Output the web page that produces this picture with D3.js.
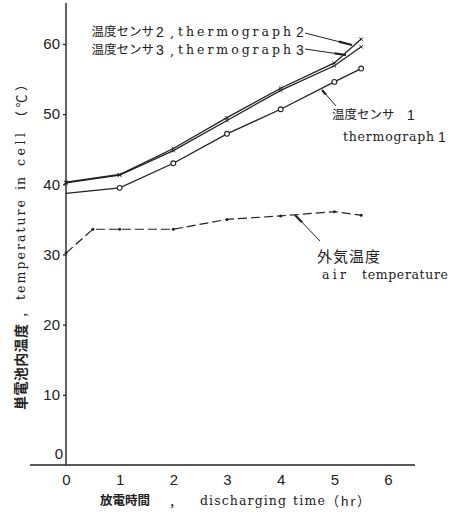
<!DOCTYPE html>
<html>
<head>
<meta charset="utf-8">
<script src="https://cdn.jsdelivr.net/npm/d3@7"></script>
<style>
  html, body { margin: 0; padding: 0; background: #fff; }
  svg { display: block; }
</style>
</head>
<body>
<svg id="chart" width="461" height="515"></svg>
<script>
// Discharge test: cell temperatures and ambient air temperature vs. time
const xTicks = [0, 1, 2, 3, 4, 5, 6];
const yTicks = [0, 10, 20, 30, 40, 50, 60];

const timesSensor = [0, 1, 2, 3, 4, 5, 5.5];
const sensor1 = [38.7, 39.5, 43.0, 47.2, 50.7, 54.6, 56.5];
const sensor2 = [40.3, 41.4, 45.1, 49.5, 53.7, 57.3, 60.7];
const sensor3 = [40.2, 41.3, 44.8, 49.1, 53.4, 56.9, 59.6];

const timesAir = [0, 0.5, 1, 2, 3, 4, 5, 5.5];
const airTemp = [30.2, 33.6, 33.6, 33.6, 35.0, 35.5, 36.1, 35.6];

const INK = "#222";
const SANS = "'Liberation Sans', Arial, sans-serif";
const SERIF = "'DejaVu Serif', 'Liberation Serif', serif";
const CJK = "'Noto Sans CJK JP', 'Noto Sans CJK SC', sans-serif";

const svg = d3.select("#chart");

const x = d3.scaleLinear().domain([0, 6]).range([66, 388]);
const y = d3.scaleLinear().domain([0, 60]).range([465, 44]);

// axis lines
svg.append("line").attr("x1", 30).attr("x2", 415).attr("y1", y(0)).attr("y2", y(0))
  .attr("stroke", INK).attr("stroke-width", 1.4);
svg.append("line").attr("x1", x(0)).attr("x2", x(0)).attr("y1", 3).attr("y2", y(0))
  .attr("stroke", INK).attr("stroke-width", 1.4);

// y axis ticks & labels
const yAxis = svg.append("g").attr("transform", `translate(${x(0)},0)`)
  .call(d3.axisLeft(y).tickValues(yTicks).tickSize(3).tickPadding(3).tickFormat(d3.format("d")));
yAxis.select(".domain").remove();
yAxis.selectAll("line").attr("stroke", INK).attr("stroke-width", 1.2);
yAxis.selectAll("text").attr("font-family", SANS).attr("font-size", 15).attr("fill", INK);
yAxis.selectAll(".tick").filter(d => d === 0).each(function () {
  d3.select(this).select("line").remove();
  d3.select(this).select("text").attr("x", -3).attr("y", -11);
});

// x axis labels
const xAxis = svg.append("g").attr("transform", `translate(0,${y(0)})`)
  .call(d3.axisBottom(x).tickValues(xTicks).tickSize(0).tickPadding(9).tickFormat(d3.format("d")));
xAxis.select(".domain").remove();
xAxis.selectAll("text").attr("font-family", SANS).attr("font-size", 15).attr("fill", INK);

// series lines
const line = (times) => d3.line().x((d, i) => x(times[i])).y(d => y(d));

svg.append("path").datum(airTemp).attr("d", line(timesAir))
  .attr("fill", "none").attr("stroke", INK).attr("stroke-width", 1.2)
  .attr("stroke-dasharray", "9,4");
svg.append("path").datum(sensor1).attr("d", line(timesSensor))
  .attr("fill", "none").attr("stroke", INK).attr("stroke-width", 1.3);
svg.append("path").datum(sensor3).attr("d", line(timesSensor))
  .attr("fill", "none").attr("stroke", INK).attr("stroke-width", 1.3);
svg.append("path").datum(sensor2).attr("d", line(timesSensor))
  .attr("fill", "none").attr("stroke", INK).attr("stroke-width", 1.3);

// markers
svg.append("g").selectAll("circle").data(sensor1.slice(1)).join("circle")
  .attr("cx", (d, i) => x(timesSensor[i + 1])).attr("cy", d => y(d)).attr("r", 2.4)
  .attr("fill", "#fff").attr("stroke", INK).attr("stroke-width", 1.1);

[sensor2, sensor3].forEach(s => {
  svg.append("g").selectAll("path").data(s).join("path")
    .attr("d", (d, i) => {
      const cx = x(timesSensor[i]), cy = y(d), r = 1.7;
      return `M${cx - r},${cy - r}L${cx + r},${cy + r}M${cx - r},${cy + r}L${cx + r},${cy - r}`;
    })
    .attr("stroke", INK).attr("stroke-width", 1);
});

svg.append("g").selectAll("circle").data(airTemp).join("circle")
  .attr("cx", (d, i) => x(timesAir[i])).attr("cy", d => y(d)).attr("r", 1.5)
  .attr("fill", INK);

// text helper: left-aligned piece, letter-spaced to span a given width
function piece(g, str, px, py, w, font, size, weight) {
  const t = g.append("text").attr("x", px).attr("y", py).attr("dy", "0.35em")
    .attr("font-family", font).attr("font-size", size).attr("fill", INK).text(str);
  if (weight) t.attr("font-weight", weight);
  if (w) {
    const n = [...str].length;
    const natural = t.node().getComputedTextLength();
    if (n > 1) t.attr("letter-spacing", Math.max(0, (w - natural) / (n - 1)));
  }
  return t;
}

// leader line with a thickened end
function leader(x1, y1, x2, y2) {
  svg.append("line").attr("x1", x1).attr("y1", y1).attr("x2", x2).attr("y2", y2)
    .attr("stroke", INK).attr("stroke-width", 1);
  const k = 0.72;
  svg.append("line").attr("x1", x1 + (x2 - x1) * k).attr("y1", y1 + (y2 - y1) * k)
    .attr("x2", x2).attr("y2", y2).attr("stroke", INK).attr("stroke-width", 2.2);
}

const ann = svg.append("g");
// sensor 2 / 3 labels
[["2", 32], ["3", 50]].forEach(([n, ly]) => {
  piece(ann, "温度センサ", 91.5, ly, 61, CJK, 12.5);
  piece(ann, n, 156, ly, null, SANS, 14);
  piece(ann, ",", 170, ly, null, SERIF, 13);
  piece(ann, "thermograph", 178, ly, 113, SERIF, 12.5);
  piece(ann, n, 296, ly, null, SANS, 14);
});
leader(305, 33, 352, 45);
leader(305, 49, 346, 55);

// sensor 1 label
piece(ann, "温度センサ", 332, 115, 61, CJK, 12.5);
piece(ann, "1", 407, 115, null, SANS, 14);
piece(ann, "thermograph", 343, 137, 91, SERIF, 12.5);
piece(ann, "1", 438, 137, null, SANS, 14);
leader(336, 106, 322, 90);

// air temperature label
piece(ann, "外気温度", 317, 257, 63, CJK, 15);
piece(ann, "air", 322, 275, 24, SERIF, 12.5);
piece(ann, "temperature", 362, 275, 86, SERIF, 12.5);
leader(320, 241, 295, 215);

// x axis title
const xt = svg.append("g");
piece(xt, "放電時間", 100, 501, 47, CJK, 12.5, "bold");
piece(xt, "，", 169, 501, null, CJK, 13);
piece(xt, "discharging", 200, 501, 86, SERIF, 12.5);
piece(xt, "time", 293, 501, 32, SERIF, 12.5);
piece(xt, "（hr）", 326, 501, 44, CJK, 13);

// y axis title (rotated)
const yt = svg.append("g").attr("transform", "translate(21,0) rotate(-90)");
piece(yt, "単電池内温度", -410, 0, 86, CJK, 14, "bold");
piece(yt, "，", -318, 0, null, CJK, 13);
piece(yt, "temperature", -300, 0, 100, SERIF, 12.5);
piece(yt, "in", -190, 0, 13, SERIF, 12.5);
piece(yt, "cell", -166, 0, 33, SERIF, 12.5);
piece(yt, "（℃）", -124, 0, 46, CJK, 13);
</script>
</body>
</html>
